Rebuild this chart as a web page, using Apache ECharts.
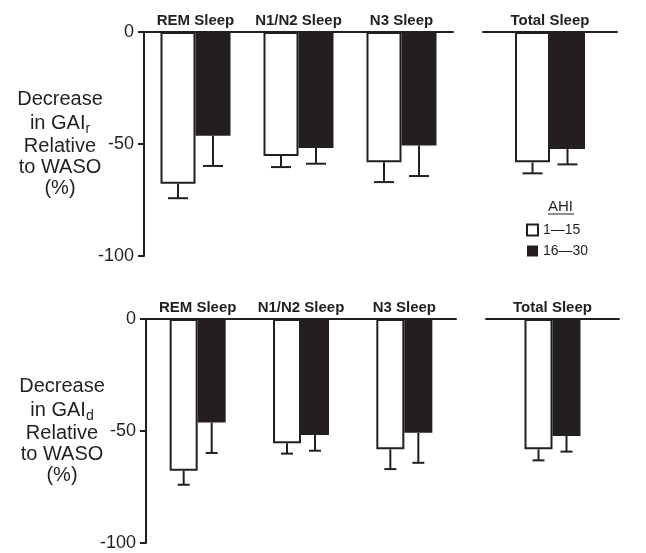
<!DOCTYPE html>
<html>
<head>
<meta charset="utf-8">
<script src="https://cdn.jsdelivr.net/npm/echarts@6/dist/echarts.min.js"></script>
<style>
  html, body { margin: 0; padding: 0; background: #fff; }
  #chart { width: 646px; height: 553px; }
</style>
</head>
<body>
<div id="chart"></div>
<script>
// categories (last one is drawn in its own panel on the right)
const stageNames = ['REM Sleep', 'N1/N2 Sleep', 'N3 Sleep', 'Total Sleep'];
const legendNames = ['1\u201415', '16\u201430'];

// GAI_r (top panel): mean decrease and error size, AHI 1-15 and 16-30
const gaiRLow = [-67.7, -55.4, -58.2, -58.2];
const gaiRLowErr = [6.5, 4.9, 8.8, 4.9];
const gaiRHigh = [-46.3, -51.8, -50.7, -52.2];
const gaiRHighErr = [13.5, 7.0, 13.6, 6.9];

// GAI_d (bottom panel)
const gaiDLow = [-67.7, -55.5, -58.2, -58.2];
const gaiDLowErr = [6.3, 4.6, 8.8, 4.9];
const gaiDHigh = [-46.2, -51.8, -50.8, -52.2];
const gaiDHighErr = [13.6, 7.0, 13.4, 7.0];

// y ticks
const yMin = -100, yMax = 0, yStep = 50;

const ink = '#231f20';
const font = '"Liberation Sans", Arial, sans-serif';

const panels = [
    { top: 32, leftL: 144, widthL: 309, leftR: 483, widthR: 134, barW: 35, capW: 20,
      low: gaiRLow, lowErr: gaiRLowErr, high: gaiRHigh, highErr: gaiRHighErr, sub: 'r' },
    { top: 319, leftL: 146, widthL: 310, leftR: 486, widthR: 133, barW: 28, capW: 12,
      low: gaiDLow, lowErr: gaiDLowErr, high: gaiDHigh, highErr: gaiDHighErr, sub: 'd' }
];

const grid = [], xAxis = [], yAxis = [], series = [];

function errSeries(gi, means, errs, side, barW, capW) {
    return {
        type: 'custom',
        name: 'err',
        xAxisIndex: gi, yAxisIndex: gi,
        z: 5,
        data: means.map((v, i) => [i, v, errs[i]]),
        encode: { x: 0, y: 1 },
        renderItem: function (params, api) {
            const i = api.value(0), m = api.value(1), e = api.value(2);
            const a = api.coord([i, m]);
            const b = api.coord([i, m - e]);
            const x = a[0] + side * barW / 2;
            const st = { stroke: ink, lineWidth: 2 };
            return { type: 'group', children: [
                { type: 'line', shape: { x1: x, y1: a[1], x2: x, y2: b[1] }, style: st },
                { type: 'line', shape: { x1: x - capW / 2, y1: b[1], x2: x + capW / 2, y2: b[1] }, style: st }
            ]};
        }
    };
}

panels.forEach((p, pi) => {
    [[0, 3, p.leftL, p.widthL, true], [3, 4, p.leftR, p.widthR, false]].forEach(([s, e, left, width, showY]) => {
        const gi = grid.length;
        grid.push({ left: left, width: width, top: p.top, height: 224 });
        xAxis.push({
            type: 'category', gridIndex: gi, position: 'top',
            data: stageNames.slice(s, e),
            axisLine: { lineStyle: { color: ink, width: 2 } },
            axisTick: { show: false },
            axisLabel: { color: ink, fontFamily: font, fontWeight: 'bold', fontSize: 15, margin: 4,
                         interval: 0, hideOverlap: false }
        });
        yAxis.push({
            type: 'value', gridIndex: gi, min: yMin, max: yMax, interval: yStep,
            show: showY,
            name: showY ? '{a|Decrease}\n{a|in GAI}{s|' + p.sub + '}\n{a|Relative}\n{a|to WASO}\n{a|(%)}' : '',
            nameLocation: 'middle', nameRotate: 0, nameGap: 84, nameMoveOverlap: false,
            nameTextStyle: {
                align: 'center', verticalAlign: 'middle',
                rich: {
                    a: { fontFamily: font, fontSize: 20, color: ink, lineHeight: 21 },
                    s: { fontFamily: font, fontSize: 14, color: ink, padding: [12, 0, 0, 0] }
                }
            },
            axisLine: { show: true, lineStyle: { color: ink, width: 2 } },
            axisTick: { show: true, length: 6, lineStyle: { color: ink, width: 2 } },
            axisLabel: { color: ink, fontFamily: font, fontSize: 18, margin: 10 },
            splitLine: { show: false }
        });
        series.push({
            type: 'bar', name: legendNames[0], xAxisIndex: gi, yAxisIndex: gi,
            data: p.low.slice(s, e), barWidth: p.barW, barGap: '0%',
            itemStyle: { color: '#fff', borderColor: ink, borderWidth: 2 }
        });
        series.push({
            type: 'bar', name: legendNames[1], xAxisIndex: gi, yAxisIndex: gi,
            data: p.high.slice(s, e), barWidth: p.barW, barGap: '0%',
            itemStyle: { color: ink }
        });
        series.push(errSeries(gi, p.low.slice(s, e), p.lowErr.slice(s, e), -1, p.barW, p.capW));
        series.push(errSeries(gi, p.high.slice(s, e), p.highErr.slice(s, e), 1, p.barW, p.capW));
    });
});

const chart = echarts.init(document.getElementById('chart'));
chart.setOption({
    animation: false,
    backgroundColor: '#fff',
    grid: grid,
    xAxis: xAxis,
    yAxis: yAxis,
    series: series,
    legend: {
        orient: 'vertical', left: 521, top: 218,
        itemWidth: 11, itemHeight: 11, itemGap: 7,
        icon: 'rect', selectedMode: false,
        textStyle: { color: ink, fontFamily: font, fontSize: 14 },
        data: [
            { name: legendNames[0], itemStyle: { color: '#fff', borderColor: ink, borderWidth: 2 } },
            { name: legendNames[1] }
        ]
    },
    graphic: [
        { type: 'text', left: 548, top: 199, style: { text: 'AHI', fill: ink, font: '15px ' + font } },
        { type: 'line', shape: { x1: 548, y1: 214, x2: 574, y2: 214 }, style: { stroke: ink, lineWidth: 1 } }
    ]
});
</script>
</body>
</html>
